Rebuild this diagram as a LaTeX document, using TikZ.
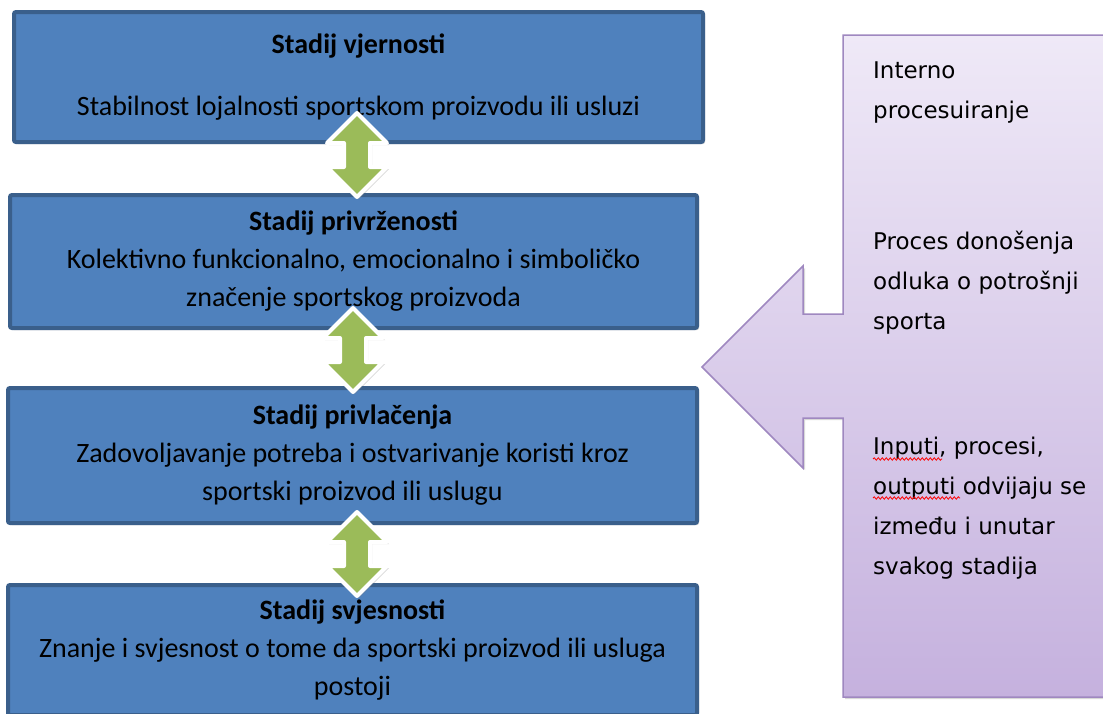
\documentclass[tikz,border=0pt]{standalone}
\usepackage{fontspec}
\setmainfont{Carlito}
\newfontfamily\sidefont{DejaVu Sans}
\usetikzlibrary{shapes.arrows, shadows, positioning, decorations.pathmorphing}

\definecolor{boxblue}{HTML}{4F81BD}
\definecolor{boxline}{HTML}{3A5F8B}
\definecolor{arrowgreen}{HTML}{9BBB59}
\definecolor{lilactop}{HTML}{EFE9F7}
\definecolor{lilacbot}{HTML}{C5B1DE}
\definecolor{lilacline}{HTML}{9F88C0}

\tikzset{
  stage/.style={draw=boxline, line width=4pt, fill=boxblue, rounded corners=2pt,
    minimum width=689pt, minimum height=130pt, align=center,
    font=\fontsize{28}{38}\selectfont,
    drop shadow={shadow xshift=2pt, shadow yshift=-2pt, opacity=0.35}},
  link/.style={double arrow, shape border rotate=90, draw=white, line width=4pt,
    line join=round, fill=arrowgreen, inner sep=11pt, minimum height=84pt,
    double arrow head extend=17pt, double arrow tip angle=90,
    drop shadow={shadow xshift=2pt, shadow yshift=-2pt, opacity=0.3}},
  sidetext/.style={anchor=north west, align=left, inner sep=0pt,
    font=\sidefont\fontsize{23}{40}\selectfont},
  spellwave/.style={draw=red, line width=0.8pt,
    decorate, decoration={snake, segment length=4pt, amplitude=1.2pt}}
}

\begin{document}
\begin{tikzpicture}[x=1pt, y=-1pt]
    \useasboundingbox (0,0) rectangle (1103,713);
    \fill[white] (0,0) rectangle (1103,713);
    \clip (0,0) rectangle (1103,713);

    % side arrow
    \path[draw=lilacline, line width=1.5pt, top color=lilactop, bottom color=lilacbot,
        drop shadow={shadow xshift=2pt, shadow yshift=-2pt, opacity=0.3}]
        (843,35) -- (1125,35) -- (1125,697) -- (843,697) -- (843,418) -- (803,418)
        -- (803,468) -- (702,367) -- (803,266) -- (803,314) -- (843,314) -- cycle;

    \node[sidetext] (t1) at (873,62) {Interno\\procesuiranje};
    \node[sidetext] (t2) at (873,231) {Proces donošenja\\odluka o potrošnji\\sporta};
    \node[sidetext] (t3) at (873,437) {Inputi, procesi,\\outputi odvijaju se\\između i unutar\\svakog stadija};
    \draw[spellwave] ([yshift=-22pt]t3.north west) -- ++(69,0);
    \draw[spellwave] ([yshift=-61pt]t3.north west) -- ++(87,0);

    % stages
    \node[stage] (s1) at (358.5,77) {\textbf{Stadij vjernosti}\\[24pt]Stabilnost lojalnosti sportskom proizvodu ili usluzi};
    \node[stage, minimum width=687pt, minimum height=133pt] (s2) at (353.5,261.5) {\textbf{Stadij privrženosti}\\Kolektivno funkcionalno, emocionalno i simboličko\\značenje sportskog proizvoda};
    \node[stage, minimum height=135pt] (s3) at (352.5,455.5) {\textbf{Stadij privlačenja}\\Zadovoljavanje potreba i ostvarivanje koristi kroz\\sportski proizvod ili uslugu};
    \node[stage] (s4) at (352.5,650) {\textbf{Stadij svjesnosti}\\Znanje i svjesnost o tome da sportski proizvod ili usluga\\postoji};

    % links between stages
    \node[link] (a1) at (357,155) {};
    \node[link] (a2) at (353,350) {};
    \node[link] (a3) at (357,554) {};
\end{tikzpicture}
\end{document}
